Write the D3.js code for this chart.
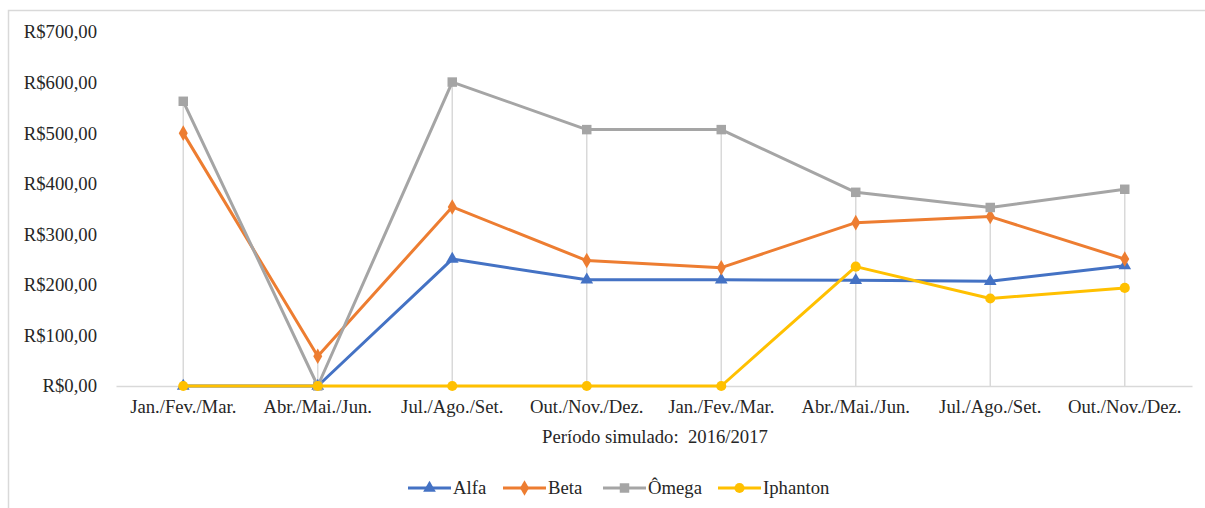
<!DOCTYPE html>
<html>
<head>
<meta charset="utf-8">
<script src="https://cdn.jsdelivr.net/npm/d3@7"></script>
<style>
  html, body { margin: 0; padding: 0; background: #fff; }
  svg { display: block; }
  svg text { font-family: "Times New Roman", Times, Tinos, "Liberation Serif", "Noto Serif", "DejaVu Serif", serif !important; }
</style>
</head>
<body>
<svg id="chart" width="1205" height="508"></svg>
<script>
// Quarterly periods of the simulation (2016/2017)
const categories = [
  "Jan./Fev./Mar.", "Abr./Mai./Jun.", "Jul./Ago./Set.", "Out./Nov./Dez.",
  "Jan./Fev./Mar.", "Abr./Mai./Jun.", "Jul./Ago./Set.", "Out./Nov./Dez."
];
const alfa     = [0, 0, 251, 210, 210, 209, 207, 238];
const beta     = [500, 59, 354, 248, 234, 323, 335, 251];
const omega    = [563, 0, 601, 507, 507, 383, 353, 389];
const iphanton = [0, 0, 0, 0, 0, 236, 173, 194];
const seriesNames = ["Alfa", "Beta", "Ômega", "Iphanton"];
const yTicks = [0, 100, 200, 300, 400, 500, 600, 700];
const xTitle = "Período simulado:  2016/2017";

const seriesValues = [alfa, beta, omega, iphanton];
const colors = ["#4472C4", "#ED7D31", "#A5A5A5", "#FFC000"];
const symbols = [d3.symbolTriangle, d3.symbolDiamond, d3.symbolSquare, d3.symbolCircle];
const symbolSizes = [70, 70, 90, 80];
const FONT = 18.7;
const TEXT = "#262626";

const svg = d3.select("#chart");

// chart frame
svg.append("rect")
  .attr("x", 8.5).attr("y", 10.5)
  .attr("width", 1220).attr("height", 520)
  .attr("fill", "none").attr("stroke", "#D9D9D9").attr("stroke-width", 1.5);

const plot = { left: 116, right: 1192, top: 32, bottom: 386 };

const x = d3.scaleBand()
  .domain(d3.range(categories.length))
  .range([plot.left, plot.right]);
const cx = i => x(i) + x.bandwidth() / 2;

const y = d3.scaleLinear().domain([0, 700]).range([plot.bottom, plot.top]);

// y axis labels
const yAxis = d3.axisLeft(y)
  .tickValues(yTicks)
  .tickSize(0)
  .tickPadding(0)
  .tickFormat(v => "R$" + d3.format(".2f")(v).replace(".", ","));
const gy = svg.append("g").attr("transform", `translate(${plot.left - 19},0)`).call(yAxis);
gy.select(".domain").remove();
gy.selectAll("text")
  .style("font-size", FONT + "px").attr("fill", TEXT);

// drop lines from the highest point of each period
const maxVals = categories.map((_, i) => d3.max(seriesValues, s => s[i]));
svg.append("g").selectAll("line")
  .data(maxVals)
  .join("line")
  .attr("x1", (d, i) => cx(i)).attr("x2", (d, i) => cx(i))
  .attr("y1", d => y(d)).attr("y2", y(0))
  .attr("stroke", "#D9D9D9").attr("stroke-width", 1.5);

// x axis
const xAxis = d3.axisBottom(x).tickSize(0).tickPadding(14).tickFormat(i => categories[i]);
const gx = svg.append("g").attr("transform", `translate(0,${y(0)})`).call(xAxis);
gx.select(".domain").attr("stroke", "#D9D9D9").attr("stroke-width", 1.5);
gx.selectAll("text")
  .style("font-size", FONT + "px").attr("fill", TEXT);

// x axis title
svg.append("text")
  .attr("x", 655).attr("y", 443)
  .attr("text-anchor", "middle")
  .style("font-size", FONT + "px").attr("fill", TEXT)
  .style("white-space", "pre")
  .text(xTitle);

// series lines and markers
const line = d3.line().x((d, i) => cx(i)).y(d => y(d));
seriesValues.forEach((vals, k) => {
  const g = svg.append("g");
  g.append("path")
    .attr("d", line(vals))
    .attr("fill", "none")
    .attr("stroke", colors[k]).attr("stroke-width", 3)
    .attr("stroke-linejoin", "round");
  g.selectAll("path.marker")
    .data(vals)
    .join("path")
    .attr("class", "marker")
    .attr("transform", (d, i) => `translate(${cx(i)},${y(d)})`)
    .attr("d", d3.symbol().type(symbols[k]).size(symbolSizes[k]))
    .attr("fill", colors[k]);
});

// legend
const legendX = [408, 503, 603, 718];
const legend = svg.append("g").attr("transform", "translate(0,488)");
seriesNames.forEach((name, k) => {
  const lg = legend.append("g").attr("transform", `translate(${legendX[k]},0)`);
  lg.append("line").attr("x1", 0).attr("x2", 43).attr("y1", 0).attr("y2", 0)
    .attr("stroke", colors[k]).attr("stroke-width", 3);
  lg.append("path").attr("transform", "translate(21.5,0)")
    .attr("d", d3.symbol().type(symbols[k]).size(symbolSizes[k]))
    .attr("fill", colors[k]);
  lg.append("text").attr("x", 45).attr("y", 6)
    .style("font-size", FONT + "px").attr("fill", TEXT)
    .text(name);
});
</script>
</body>
</html>
